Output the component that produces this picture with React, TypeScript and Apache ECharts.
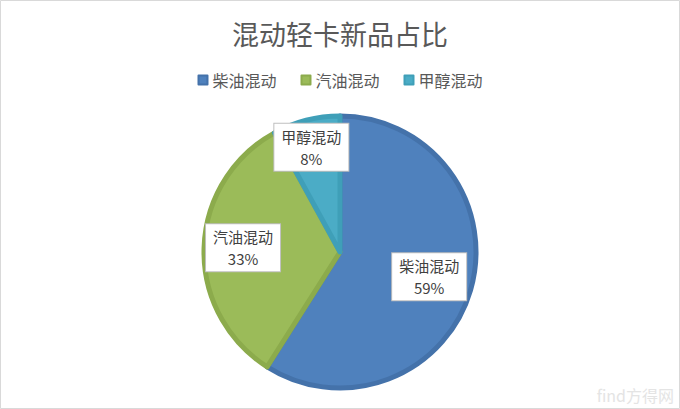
import React, { useEffect, useRef } from "react";
import * as echarts from "echarts";

const titleText = "混动轻卡新品占比";
const categories = ["柴油混动", "汽油混动", "甲醇混动"];
const values = [59, 33, 8];
const colors = ["#4f81bd", "#9bbb59", "#4bacc6"];
const borderColors = ["#4472aa", "#8cab4c", "#3f9fb8"];
const labelOffsets = [[21, 5], [-26, -2], [-11, -36]];

export default function App() {
  const ref = useRef<HTMLDivElement>(null);
  useEffect(() => {
    document.body.style.margin = "0";
    const chart = echarts.init(ref.current!, null, { renderer: "svg" });
    const font = "'Noto Sans CJK SC', 'Noto Sans', sans-serif";
    chart.setOption({
      animation: false,
      backgroundColor: "#ffffff",
      color: colors,
      title: {
        text: titleText,
        left: "center",
        top: 15,
        textStyle: { fontSize: 27, fontWeight: "normal", color: "#595959", fontFamily: font },
      },
      legend: {
        data: categories,
        top: 67,
        left: "center",
        icon: "rect",
        itemWidth: 9,
        itemHeight: 9,
        itemGap: 24,
        textStyle: { fontSize: 16, color: "#595959", fontFamily: font },
      },
      graphic: [
        {
          type: "rect",
          shape: { x: 0.5, y: 0.5, width: 679, height: 408 },
          style: { fill: "none", stroke: "#d9d9d9", lineWidth: 1 },
          silent: true,
        },
        {
          type: "text",
          right: 6,
          bottom: 6,
          style: { text: "find方得网", fontSize: 16, fill: "#e4e4e4", fontFamily: font },
          silent: true,
        },
      ],
      series: [
        {
          type: "pie",
          center: [340, 252],
          radius: 136,
          startAngle: 90,
          clockwise: true,
          label: {
            show: true,
            position: "inside",
            formatter: "{b}\n{d}%",
            fontSize: 15,
            lineHeight: 22,
            color: "#404040",
            fontFamily: font,
            backgroundColor: "#ffffff",
            borderColor: "#bfbfbf",
            borderWidth: 1,
            padding: [2, 7, 1, 7],
          },
          labelLine: { show: false },
          data: categories.map((name, i) => ({
            name,
            value: values[i],
            itemStyle: { color: colors[i], borderColor: borderColors[i], borderWidth: 5 },
            label: { offset: labelOffsets[i] },
          })),
          emphasis: { disabled: true },
        },
      ],
    });
    return () => chart.dispose();
  }, []);
  return <div ref={ref} style={{ width: 680, height: 409 }} />;
}
